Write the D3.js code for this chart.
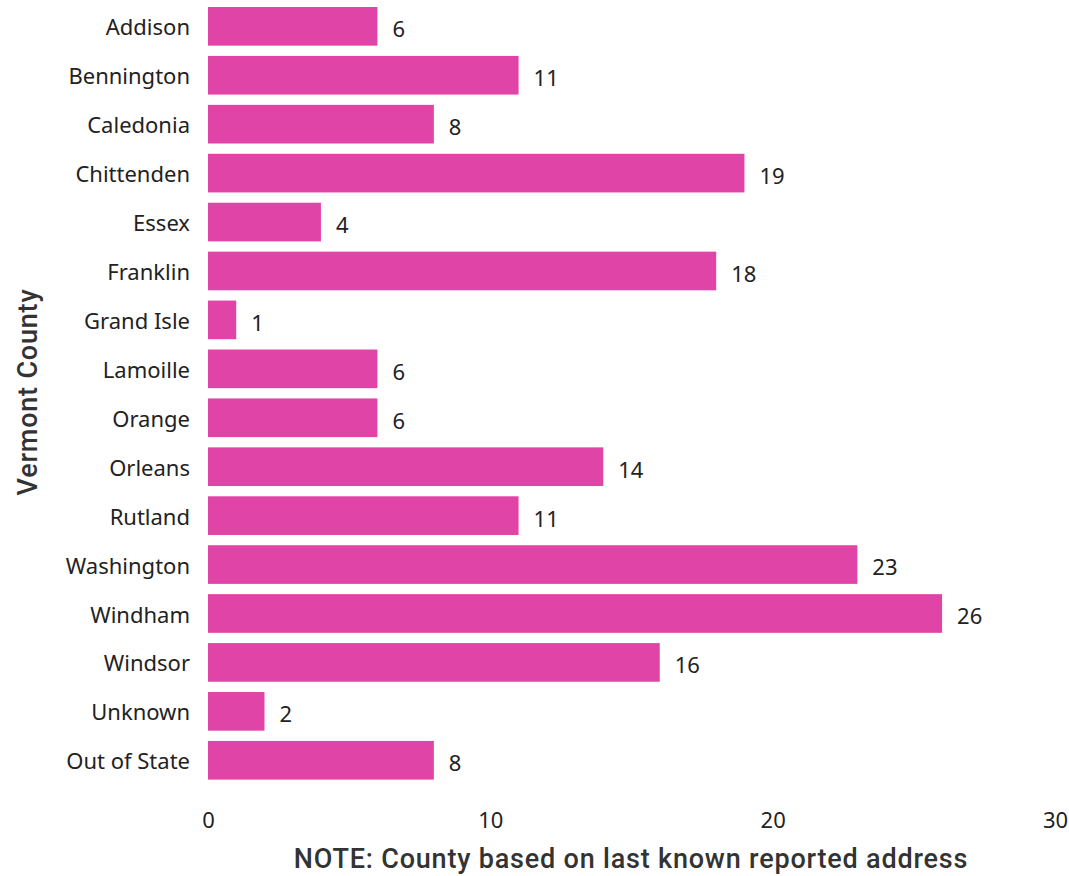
<!DOCTYPE html>
<html><head><meta charset="utf-8">
<script src="https://cdn.jsdelivr.net/npm/d3@7"></script>
<style>body{margin:0;background:#fff}svg{display:block}</style>
</head><body>
<script>
const counties = ["Addison","Bennington","Caledonia","Chittenden","Essex","Franklin","Grand Isle","Lamoille","Orange","Orleans","Rutland","Washington","Windham","Windsor","Unknown","Out of State"];
const counts = [6,11,8,19,4,18,1,6,6,14,11,23,26,16,2,8];
const xTicks = [0,10,20,30];
const yTitle = "Vermont County";
const xTitle = "NOTE: County based on last known reported address";

const W=1069,H=876;
const svg=d3.select("body").append("svg").attr("width",W).attr("height",H);
const x=d3.scaleLinear().domain([0,30]).range([208,1055]);
const y=d3.scaleBand().domain(counties).range([2.1,784.5]).paddingInner(0.21).paddingOuter(0.1);
const data=counties.map((c,i)=>({c,v:counts[i]}));
const F="'Noto Sans','Open Sans',sans-serif";

svg.selectAll("rect.bar").data(data).join("rect").attr("class","bar")
  .attr("x",x(0)).attr("y",d=>y(d.c)).attr("width",d=>x(d.v)-x(0)).attr("height",y.bandwidth())
  .attr("fill","#E044A7");

svg.selectAll("text.val").data(data).join("text").attr("class","val")
  .attr("x",d=>x(d.v)+15).attr("y",d=>y(d.c)+y.bandwidth()/2+5)
  .attr("dominant-baseline","middle")
  .attr("font-family",F).attr("font-size",22).attr("fill","#222")
  .text(d=>d.v);

const yAxis=d3.axisLeft(y).tickSize(0).tickPadding(18);
const gy=svg.append("g").attr("transform",`translate(${x(0)},2)`).call(yAxis);
gy.select(".domain").remove();
gy.selectAll("text").attr("font-family",F).attr("font-size",22).attr("fill","#222");

const xAxis=d3.axisBottom(x).tickValues(xTicks).tickSize(0).tickPadding(0);
const gx=svg.append("g").attr("transform",`translate(0,812)`).call(xAxis);
gx.select(".domain").remove();
gx.selectAll("text").attr("font-family",F).attr("font-size",22).attr("fill","#222");

svg.append("text").attr("transform","translate(37,392) rotate(-90)").attr("text-anchor","middle")
  .attr("font-family","Roboto,sans-serif").attr("font-weight",500).attr("font-size",27)
  .attr("letter-spacing",0.8).attr("fill","#333")
  .text(yTitle);
svg.append("text").attr("x",631).attr("y",868).attr("text-anchor","middle")
  .attr("font-family","Roboto,sans-serif").attr("font-weight",500).attr("font-size",27)
  .attr("letter-spacing",0.8).attr("fill","#333")
  .text(xTitle);
</script>
</body></html>
